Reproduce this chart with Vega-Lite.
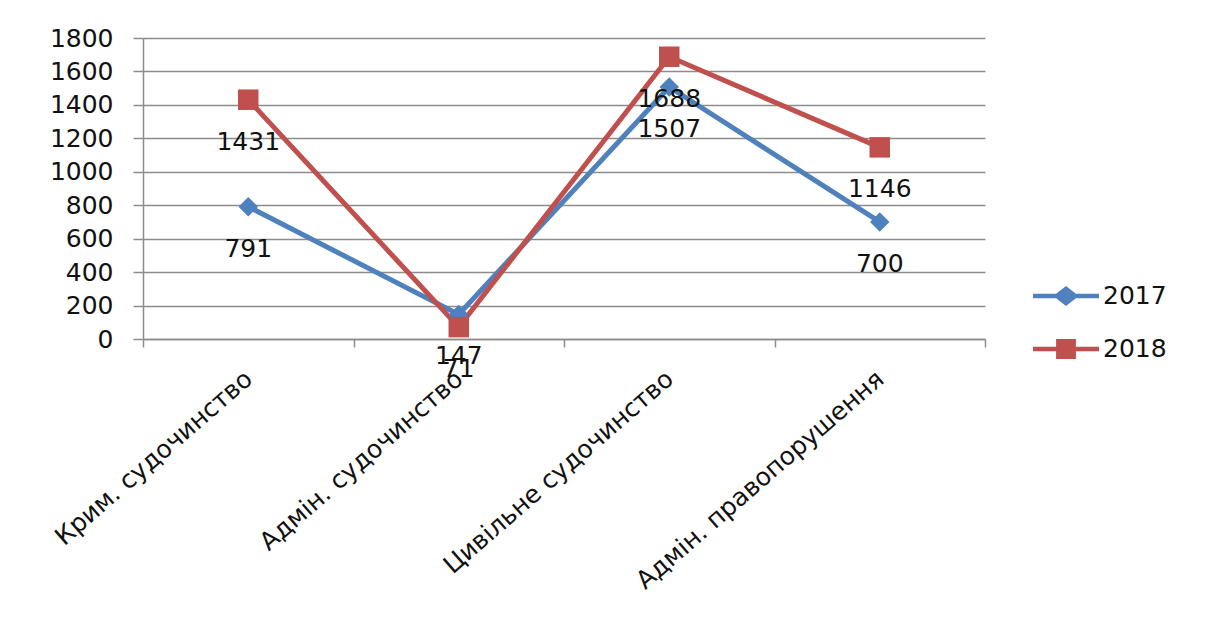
{
  "$schema": "https://vega.github.io/schema/vega-lite/v6.json",
  "autosize": {"type": "none"},
  "padding": {"left": 143, "top": 38, "right": 229, "bottom": 295},
  "width": 842,
  "height": 301,
  "background": "white",
  "config": {
    "font": "DejaVu Sans",
    "view": {"stroke": null},
    "axis": {"labelFont": "DejaVu Sans", "labelFontSize": 25, "labelColor": "#111"},
    "legend": {
      "orient": "none",
      "legendX": 890,
      "legendY": 225,
      "symbolSize": 4356,
      "symbolStrokeWidth": 0,
      "symbolOpacity": 1,
      "labelFont": "DejaVu Sans",
      "labelFontSize": 25,
      "labelColor": "#111",
      "labelOffset": 4,
      "rowPadding": 7
    }
  },
  "data": {
    "values": [
      {"category": "Крим. судочинство", "year": "2017", "value": 791},
      {"category": "Адмін. судочинство", "year": "2017", "value": 147},
      {"category": "Цивільне судочинство", "year": "2017", "value": 1507},
      {"category": "Адмін. правопорушення", "year": "2017", "value": 700},
      {"category": "Крим. судочинство", "year": "2018", "value": 1431},
      {"category": "Адмін. судочинство", "year": "2018", "value": 71},
      {"category": "Цивільне судочинство", "year": "2018", "value": 1688},
      {"category": "Адмін. правопорушення", "year": "2018", "value": 1146}
    ]
  },
  "encoding": {
    "x": {
      "field": "category",
      "type": "nominal",
      "sort": null,
      "scale": {"type": "band", "paddingInner": 0, "paddingOuter": 0},
      "axis": {
        "title": null,
        "labelAngle": -41,
        "labelAlign": "right",
        "labelBaseline": "middle",
        "labelPadding": 28,
        "labelLimit": 0,
        "tickBand": "extent",
        "tickSize": 8,
        "tickColor": "#8c8c8c",
        "domainColor": "#8c8c8c",
        "domainWidth": 1.5,
        "tickWidth": 1.5,
        "grid": false
      }
    },
    "y": {
      "field": "value",
      "type": "quantitative",
      "scale": {"domain": [0, 1800], "nice": false},
      "axis": {
        "title": null,
        "format": "d",
        "values": [0, 200, 400, 600, 800, 1000, 1200, 1400, 1600, 1800],
        "tickSize": 10,
        "tickColor": "#8c8c8c",
        "tickWidth": 1.5,
        "domainColor": "#8c8c8c",
        "domainWidth": 1.5,
        "grid": true,
        "gridColor": "#8c8c8c",
        "gridWidth": 1.5,
        "labelPadding": 20
      }
    }
  },
  "layer": [
    {
      "mark": {"type": "line", "strokeWidth": 5},
      "encoding": {
        "color": {
          "field": "year",
          "type": "nominal",
          "title": null,
          "scale": {"domain": ["2017", "2018"], "range": ["#4F81BD", "#C0504D"]}
        }
      }
    },
    {
      "transform": [{"filter": "datum.year === '2017'"}],
      "mark": {"type": "point", "shape": "diamond", "filled": true, "opacity": 1, "size": 380},
      "encoding": {
        "color": {"field": "year", "type": "nominal", "title": null}
      }
    },
    {
      "transform": [{"filter": "datum.year === '2018'"}],
      "mark": {"type": "point", "shape": "square", "filled": true, "opacity": 1, "size": 420},
      "encoding": {
        "color": {"field": "year", "type": "nominal", "title": null}
      }
    },
    {
      "mark": {"type": "text", "dy": 42, "fontSize": 25, "font": "DejaVu Sans", "color": "#111"},
      "encoding": {"text": {"field": "value", "type": "quantitative"}}
    },
    {
      "mark": {"type": "point", "filled": true, "size": 0, "strokeWidth": 0},
      "encoding": {
        "color": {"field": "year", "type": "nominal", "title": null},
        "shape": {
          "field": "year",
          "type": "nominal",
          "title": null,
          "scale": {
            "domain": ["2017", "2018"],
            "range": [
              "M-1,-0.07H-0.3L0,-0.3L0.3,-0.07H1V0.07H0.3L0,0.3L-0.3,0.07H-1Z",
              "M-1,-0.07H-0.3V-0.3H0.3V-0.07H1V0.07H0.3V0.3H-0.3V0.07H-1Z"
            ]
          }
        }
      }
    }
  ]
}
